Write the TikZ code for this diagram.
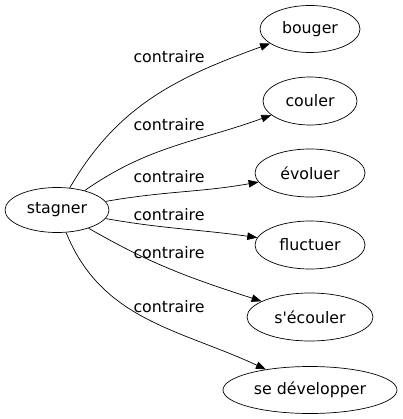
\documentclass[tikz,border=0pt]{standalone}
\usepackage{fontspec}
\setmainfont{DejaVu Sans}[Ligatures=TeXOff]
\usetikzlibrary{arrows.meta,shapes.geometric}
\begin{document}
\begin{tikzpicture}[x=1pt,y=-1pt,font=\fontsize{15.8}{17}\selectfont,
  mot/.style={draw,ellipse,inner sep=0pt,line width=0.7pt},
  lien/.style={line width=0.7pt,-{Triangle[length=10pt,width=7.5pt]}}]

\useasboundingbox (0,0) rectangle (402,419);

% mots
\node[mot,minimum width=104pt,minimum height=45pt] (stagner) at (57,210) {stagner};
\node[mot,minimum width=100pt,minimum height=47pt] (bouger) at (310,29) {bouger};
\node[mot,minimum width=94pt,minimum height=48pt] (couler) at (310,101) {couler};
\node[mot,minimum width=110pt,minimum height=48pt] (evoluer) at (310,173) {évoluer};
\node[mot,minimum width=110pt,minimum height=48pt] (fluctuer) at (310,245) {fluctuer};
\node[mot,minimum width=126pt,minimum height=48pt] (secouler) at (310,317) {s'écouler};
\node[mot,minimum width=174pt,minimum height=47pt] (sedevelopper) at (310,390) {se développer};

% liens
\draw[lien] (stagner) to[out=60,in=200] (bouger);
\draw[lien] (stagner) to[out=35,in=200] (couler);
\draw[lien] (stagner) to[out=10,in=190] (evoluer);
\draw[lien] (stagner) to[out=-10,in=172] (fluctuer);
\draw[lien] (stagner) to[out=-30,in=162] (secouler);
\draw[lien] (stagner) to[out=-68,in=155] (sedevelopper);

% etiquettes
\foreach \n/\y in {a/57,b/125,c/177,d/215,e/253,f/307}
	\node (lab\n) at (169,\y) {contraire};

\end{tikzpicture}
\end{document}
